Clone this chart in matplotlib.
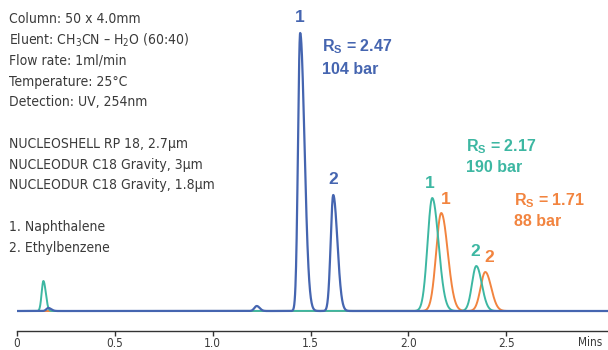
import numpy as np
import matplotlib
matplotlib.use("Agg")
import matplotlib.pyplot as plt
from matplotlib import font_manager as fm

# find a condensed / narrow sans font if one is installed
cond = None
for f in fm.fontManager.ttflist:
    fn = f.fname.lower()
    if ("narrow" in fn or "condensed" in fn) and "bold" not in fn and "italic" not in fn \
            and "oblique" not in fn and "mono" not in fn and "serif" not in fn.replace("sans", ""):
        cond = f
        break
if cond is not None:
    NARROW = cond.name
    STRETCH = cond.stretch
else:
    NARROW = "Roboto"
    STRETCH = "normal"

plt.rcParams['font.family'] = [NARROW, 'DejaVu Sans']
plt.rcParams['font.stretch'] = STRETCH
plt.rcParams['mathtext.fontset'] = 'custom'
plt.rcParams['mathtext.rm'] = NARROW
plt.rcParams['mathtext.bf'] = 'Liberation Sans:bold'
plt.rcParams['mathtext.default'] = 'regular'

# ---- data: peak retention times (min), heights (a.u.), left/right widths (min)
blue_rt = [0.16, 1.225, 1.447, 1.616]
blue_h = [3, 5, 278, 116]
blue_sl = [0.01, 0.012, 0.011, 0.013]
blue_sr = [0.015, 0.015, 0.022, 0.021]

teal_rt = [0.135, 2.122, 2.347]
teal_h = [30, 113, 45]
teal_sl = [0.009, 0.024, 0.022]
teal_sr = [0.012, 0.032, 0.028]

orange_rt = [2.168, 2.393]
orange_h = [98, 39]
orange_sl = [0.026, 0.024]
orange_sr = [0.033, 0.03]

tick_vals = [0, 0.5, 1.0, 1.5, 2.0, 2.5]
tick_labels = ["0", "0.5", "1.0", "1.5", "2.0", "2.5"]

BLUE = "#4565b0"
TEAL = "#3db7a2"
ORANGE = "#f2843f"
TXT = "#3a3a3a"

t = np.linspace(0, 3.02, 3000)

def trace(rts, hs, sls, srs):
    y = np.zeros_like(t)
    for rt, h, sl, sr in zip(rts, hs, sls, srs):
        s = np.where(t < rt, sl, sr)
        y += h * np.exp(-0.5 * ((t - rt) / s) ** 2)
    return y

fig = plt.figure(figsize=(6.08, 3.5), dpi=100)
ax = fig.add_axes([17/608, 19/350, 591/608, 331/350])
ax.set_xlim(0, 3.02)
ax.set_ylim(-20, 311)

ax.plot(t, trace(orange_rt, orange_h, orange_sl, orange_sr), color=ORANGE, lw=1.4)
ax.plot(t, trace(teal_rt, teal_h, teal_sl, teal_sr), color=TEAL, lw=1.4)
ax.plot(t, trace(blue_rt, blue_h, blue_sl, blue_sr), color=BLUE, lw=1.6)

for s in ["left", "top", "right"]:
    ax.spines[s].set_visible(False)
ax.spines["bottom"].set_color("#333333")
ax.spines["bottom"].set_linewidth(1.0)
ax.set_yticks([])
ax.set_xticks(tick_vals)
ax.set_xticklabels(tick_labels)
ax.tick_params(axis="x", direction="out", length=3.5, width=1, color="#333333",
               labelsize=8.5, labelcolor=TXT, pad=0.5)
fig.text(590/608, 1 - 342/350, "Mins", ha="center", va="center", fontsize=8.5, color=TXT)

# left annotation block
lines = [
    (19, "Column: 50 x 4.0mm"),
    (40, "Eluent: CH$_3$CN – H$_2$O (60:40)"),
    (61, "Flow rate: 1ml/min"),
    (82, "Temperature: 25°C"),
    (102, "Detection: UV, 254nm"),
    (144, "NUCLEOSHELL RP 18, 2.7µm"),
    (165, "NUCLEODUR C18 Gravity, 3µm"),
    (185, "NUCLEODUR C18 Gravity, 1.8µm"),
    (227, "1. Naphthalene"),
    (248, "2. Ethylbenzene"),
]
for y, s in lines:
    fig.text(9/608, 1 - y/350, s, ha="left", va="center", fontsize=10, color=TXT)

bold = dict(fontweight="bold", family=["Liberation Sans", "DejaVu Sans"], stretch="normal")
def ptxt(x, y, s, c, size=11, ha="center"):
    fig.text(x/608, 1 - y/350, s, ha=ha, va="center", fontsize=size, color=c, **bold)

RS = r"$\mathbf{R}_{\mathbf{S}}$"
ptxt(300, 17, "1", BLUE, 12.5)
ptxt(333, 180, "2", BLUE, 12.5)
ptxt(322, 47, RS + " = 2.47", BLUE, 11.5, "left")
ptxt(322, 69, "104 bar", BLUE, 11.5, "left")
ptxt(430, 184, "1", TEAL, 12.5)
ptxt(446, 199, "1", ORANGE, 12.5)
ptxt(475, 251, "2", TEAL, 12.5)
ptxt(489, 258, "2", ORANGE, 12.5)
ptxt(466, 147, RS + " = 2.17", TEAL, 11.5, "left")
ptxt(466, 168, "190 bar", TEAL, 11.5, "left")
ptxt(514, 201, RS + " = 1.71", ORANGE, 11.5, "left")
ptxt(514, 222, "88 bar", ORANGE, 11.5, "left")

fig.savefig("out.png", dpi=100, facecolor="white")
